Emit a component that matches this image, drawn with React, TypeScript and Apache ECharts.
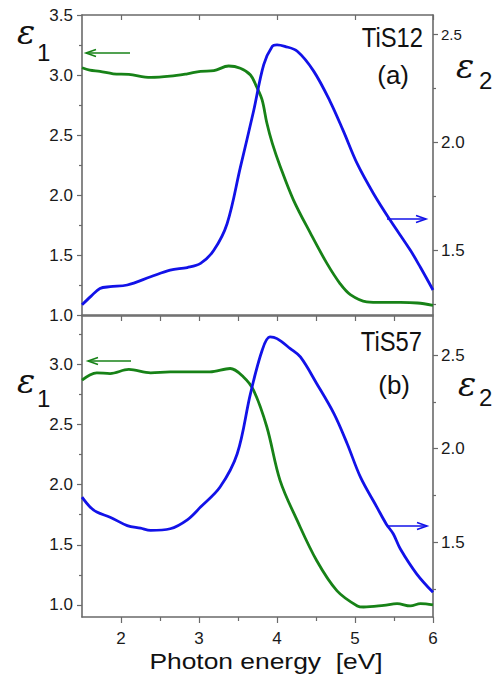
import React, { useEffect, useRef } from "react";
import * as echarts from "echarts";

// ---- data ----
const xTopE1 = [1.5, 1.6, 1.73, 1.9, 2.1, 2.38, 2.63, 2.85, 3.02, 3.19, 3.38, 3.53, 3.66, 3.74, 3.81, 3.87, 3.94, 4.04, 4.21, 4.43, 4.64, 4.81, 4.94, 5.15, 5.35, 5.58, 5.8, 6.0];
const yTopE1 = [3.06, 3.04, 3.03, 3.01, 3.005, 2.98, 2.99, 3.01, 3.03, 3.036, 3.075, 3.056, 3.0, 2.9, 2.79, 2.6, 2.43, 2.24, 1.96, 1.68, 1.43, 1.26, 1.17, 1.11, 1.105, 1.105, 1.1, 1.08];

const xTopE2 = [1.5, 1.61, 1.73, 1.86, 2.08, 2.38, 2.63, 2.85, 3.02, 3.19, 3.36, 3.53, 3.7, 3.83, 3.94, 4.0, 4.1, 4.26, 4.47, 4.68, 4.85, 5.03, 5.24, 5.45, 5.71, 5.84, 6.0];
const yTopE2 = [1.247, 1.285, 1.323, 1.331, 1.339, 1.377, 1.408, 1.42, 1.439, 1.5, 1.623, 1.884, 2.145, 2.36, 2.445, 2.452, 2.445, 2.422, 2.33, 2.19, 2.053, 1.9, 1.761, 1.64, 1.5, 1.42, 1.316];

const xBotE1 = [1.5, 1.6, 1.69, 1.86, 2.1, 2.38, 2.63, 3.02, 3.14, 3.4, 3.57, 3.7, 3.87, 4.04, 4.26, 4.51, 4.77, 5.03, 5.11, 5.37, 5.54, 5.71, 5.84, 6.0];
const yBotE1 = [2.867, 2.91, 2.928, 2.922, 2.956, 2.928, 2.936, 2.936, 2.936, 2.964, 2.894, 2.783, 2.478, 2.033, 1.7, 1.367, 1.117, 0.992, 0.983, 0.997, 1.011, 0.992, 1.011, 1.0];

const xBotE2 = [1.5, 1.6, 1.69, 1.86, 2.08, 2.25, 2.38, 2.63, 2.85, 3.02, 3.27, 3.49, 3.66, 3.81, 3.91, 4.0, 4.17, 4.3, 4.51, 4.73, 4.9, 5.07, 5.28, 5.4, 5.49, 5.58, 5.79, 6.0];
const yBotE2 = [1.741, 1.69, 1.661, 1.634, 1.589, 1.575, 1.563, 1.572, 1.62, 1.688, 1.795, 1.973, 2.295, 2.527, 2.598, 2.589, 2.536, 2.491, 2.348, 2.188, 2.027, 1.848, 1.688, 1.598, 1.545, 1.465, 1.331, 1.232];

const xMajorTicks = [2, 3, 4, 5, 6];
const xMinorTicks = [2.5, 3.5, 4.5, 5.5];
const xHalfTicks = [2, 2.5, 3, 3.5, 4, 4.5, 5, 5.5];
const leftLabelsTop = [1.0, 1.5, 2.0, 2.5, 3.0, 3.5];
const leftLabelsBot = [1.0, 1.5, 2.0, 2.5, 3.0];
const leftMinor = [1.25, 1.75, 2.25, 2.75, 3.25];
const rightLabels = [1.5, 2.0, 2.5];
const rightMinor = [1.25, 1.75, 2.25];

const GREEN = "#178217";
const BLUE = "#1212e8";
const AX = "#6a6a6a";
const FONT = "Liberation Sans, Arial, sans-serif";

const zip = (xs: number[], ys: number[]) => xs.map((x, i) => [x, ys[i]]);

export default function App() {
  const ref = useRef<HTMLDivElement>(null);
  useEffect(() => {
    if (!ref.current) return;
    const chart = echarts.init(ref.current, undefined, { renderer: "svg" });
    const line = { show: true, lineStyle: { color: AX, width: 1.6 } };
    const lbl = (vals: number[], extra: any = {}) => ({
      show: true,
      customValues: vals,
      color: "#1a1a1a",
      fontSize: 17,
      fontFamily: FONT,
      formatter: (v: number) => v.toFixed(1),
      ...extra,
    });
    const xBase = { type: "value", min: 1.5, max: 6, splitLine: { show: false } };
    const grids = [
      { left: 82, right: 71, top: 15, height: 300 },
      { left: 82, right: 71, top: 316, height: 301 },
    ];
    const xAxis: any[] = [
      { ...xBase, gridIndex: 0, position: "bottom", axisLine: line, axisTick: { show: false }, axisLabel: { show: false } },
      { ...xBase, gridIndex: 0, position: "top", axisLine: line, axisTick: { show: true, inside: true, length: 5, customValues: xMajorTicks, lineStyle: { color: AX, width: 1.2 } }, axisLabel: { show: false } },
      {
        ...xBase, gridIndex: 1, position: "bottom", axisLine: line,
        axisTick: { show: true, length: 6, customValues: xMajorTicks, lineStyle: { color: AX, width: 1.2 } },
        axisLabel: { show: true, customValues: xMajorTicks, fontSize: 17, color: "#1a1a1a", fontFamily: FONT, margin: 13, formatter: (v: number) => String(v) },
      },
      { ...xBase, gridIndex: 1, position: "bottom", axisLine: { show: false }, axisTick: { show: true, length: 4, customValues: xMinorTicks, lineStyle: { color: AX, width: 1.2 } }, axisLabel: { show: false } },
      { ...xBase, gridIndex: 1, position: "top", axisLine: line, axisTick: { show: true, inside: true, length: 5, customValues: xHalfTicks, lineStyle: { color: AX, width: 1.2 } }, axisLabel: { show: false } },
    ];
    const yTick = (vals: number[], len: number) => ({ show: true, length: len, customValues: vals, lineStyle: { color: AX, width: 1.2 } });
    const yAxis: any[] = [
      { type: "value", gridIndex: 0, position: "left", min: 1.0, max: 3.5, axisLine: line, splitLine: { show: false }, axisTick: yTick(leftLabelsTop, 5), axisLabel: lbl(leftLabelsTop, { margin: 9 }) },
      {
        type: "value", gridIndex: 0, position: "right", min: 1.2, max: 2.59, axisLine: line, splitLine: { show: false }, axisTick: yTick(rightLabels, 5),
        axisLabel: lbl(rightLabels, { margin: 8, formatter: (v: number) => (v === 2.5 ? "{s|2.5}" : v.toFixed(1)), rich: { s: { fontSize: 15, fontFamily: FONT, color: "#1a1a1a" } } }),
      },
      { type: "value", gridIndex: 1, position: "left", min: 0.9, max: 3.4, axisLine: line, splitLine: { show: false }, axisTick: yTick(leftLabelsBot, 5), axisLabel: lbl(leftLabelsBot, { margin: 9 }) },
      { type: "value", gridIndex: 1, position: "right", min: 1.1, max: 2.71, axisLine: line, splitLine: { show: false }, axisTick: yTick(rightLabels, 5), axisLabel: lbl(rightLabels, { margin: 8 }) },
      { type: "value", gridIndex: 0, position: "left", min: 1.0, max: 3.5, axisLine: { show: false }, splitLine: { show: false }, axisTick: yTick(leftMinor, 3), axisLabel: { show: false } },
      { type: "value", gridIndex: 0, position: "right", min: 1.2, max: 2.59, axisLine: { show: false }, splitLine: { show: false }, axisTick: yTick(rightMinor, 3), axisLabel: { show: false } },
      { type: "value", gridIndex: 1, position: "left", min: 0.9, max: 3.4, axisLine: { show: false }, splitLine: { show: false }, axisTick: yTick(leftMinor, 3), axisLabel: { show: false } },
      { type: "value", gridIndex: 1, position: "right", min: 1.1, max: 2.71, axisLine: { show: false }, splitLine: { show: false }, axisTick: yTick(rightMinor, 3), axisLabel: { show: false } },
    ];
    const mk = (data: number[][], xi: number, yi: number, color: string) => ({
      type: "line", xAxisIndex: xi, yAxisIndex: yi, data, showSymbol: false, symbol: "none",
      smooth: 0.35, lineStyle: { color, width: 2.8 }, z: 3,
    });
    const txt = (x: number, y: number, text: string, size: number, opts: any = {}) => ({
      type: "text", x, y, scaleX: opts.scaleX || 1,
      style: { text, fontSize: size, fontFamily: opts.font || FONT, fill: "#111", textAlign: opts.align || "left", textVerticalAlign: "middle", fontStyle: opts.italic ? "italic" : "normal" },
    });
    const arrow = (x1: number, x2: number, y: number, color: string) => {
      const dir = x2 > x1 ? -1 : 1;
      return [
        { type: "line", shape: { x1, y1: y, x2, y2: y }, style: { stroke: color, lineWidth: 1.6 } },
        { type: "polyline", shape: { points: [[x2 + dir * 10, y - 3.5], [x2, y], [x2 + dir * 10, y + 3.5]] }, style: { stroke: color, lineWidth: 1.6, fill: null } },
      ];
    };
    const EPS_FONT = "DejaVu Serif, serif";
    chart.setOption({
      animation: false,
      backgroundColor: "#fff",
      grid: grids,
      xAxis,
      yAxis,
      series: [
        mk(zip(xTopE1, yTopE1), 0, 0, GREEN),
        mk(zip(xTopE2, yTopE2), 0, 1, BLUE),
        mk(zip(xBotE1, yBotE1), 2, 2, GREEN),
        mk(zip(xBotE2, yBotE2), 2, 3, BLUE),
      ],
      graphic: [
        txt(266, 661, "Photon energy  [eV]", 22, { align: "center", scaleX: 1.2 }),
        txt(423, 37, "TiS12", 27, { align: "right", scaleX: 0.88 }),
        txt(409, 75, "(a)", 26, { align: "right" }),
        txt(422, 341, "TiS57", 27, { align: "right", scaleX: 0.88 }),
        txt(410, 385, "(b)", 26, { align: "right" }),
        txt(17, 32, "ε", 34, { italic: true, font: EPS_FONT }),
        txt(37, 52, "1", 24),
        txt(17, 381, "ε", 34, { italic: true, font: EPS_FONT }),
        txt(37, 398, "1", 24),
        txt(456, 66, "ε", 34, { italic: true, font: EPS_FONT }),
        txt(479, 80, "2", 24),
        txt(458, 384, "ε", 34, { italic: true, font: EPS_FONT }),
        txt(479, 397, "2", 24),
        ...arrow(130, 86, 53, GREEN),
        ...arrow(387, 426, 219, BLUE),
        ...arrow(131, 88, 361, GREEN),
        ...arrow(388, 427, 526, BLUE),
      ],
    });
    return () => chart.dispose();
  }, []);
  return <div ref={ref} style={{ position: "fixed", left: 0, top: 0, width: 504, height: 681, background: "#fff" }} />;
}
